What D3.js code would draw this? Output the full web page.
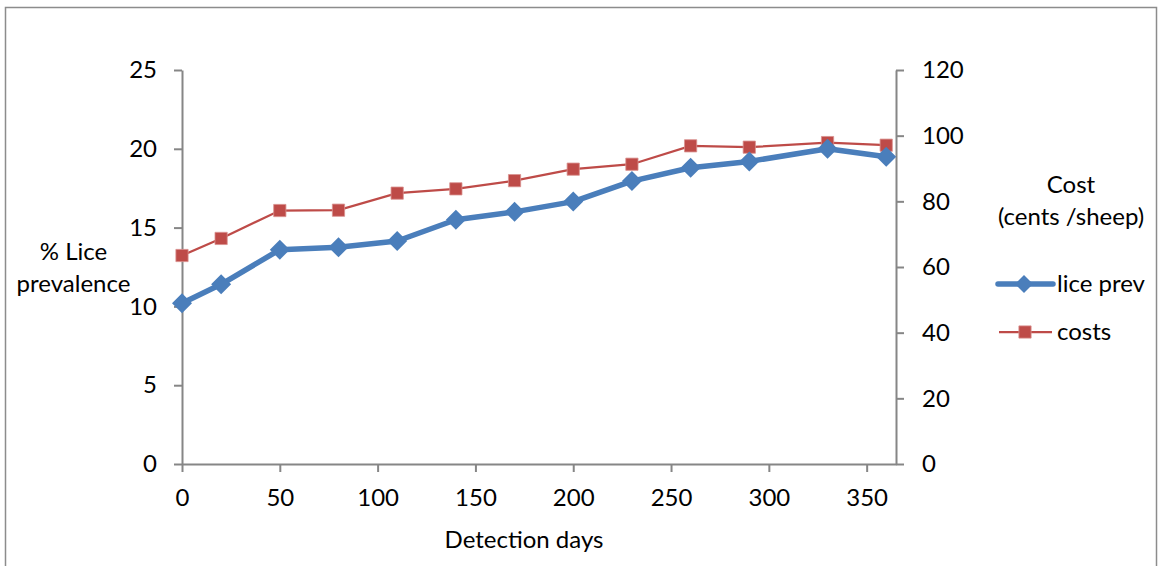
<!DOCTYPE html>
<html>
<head>
<meta charset="utf-8">
<script src="https://cdn.jsdelivr.net/npm/d3@7"></script>
<style>
  html, body { margin: 0; padding: 0; background: #fff; }
  svg { display: block; }
  text { font-family: Lato, "Open Sans", sans-serif; fill: #000; }
</style>
</head>
<body>
<svg id="chart" width="1159" height="566"></svg>
<script>
// Detection days (x), lice prevalence in % (left axis), cost in cents per sheep (right axis)
const days = [0, 20, 50, 80, 110, 140, 170, 200, 230, 260, 290, 330, 360];
const licePrev = [10.2, 11.4, 13.6, 13.75, 14.15, 15.5, 16.0, 16.65, 17.95, 18.8, 19.2, 20.0, 19.5];
const costs = [63.5, 68.7, 77.2, 77.3, 82.5, 83.8, 86.3, 89.8, 91.3, 96.9, 96.5, 97.9, 97.1];
const xTicks = [0, 50, 100, 150, 200, 250, 300, 350];
const leftTicks = [0, 5, 10, 15, 20, 25];
const rightTicks = [0, 20, 40, 60, 80, 100, 120];

const svg = d3.select("#chart");
const plot = { left: 182, right: 896, top: 70, bottom: 464 };
const axisColor = "#868686";
const blue = "#4A7EBB";
const red = "#BE4B48";
const fontSize = 24;

// outer frame
svg.append("rect")
  .attr("x", 5.5).attr("y", 7.5)
  .attr("width", 1151).attr("height", 600)
  .attr("fill", "none").attr("stroke", "#8c8c8c").attr("stroke-width", 1.5);

const x = d3.scaleLinear().domain([0, 365]).range([plot.left, plot.right]);
const yL = d3.scaleLinear().domain([0, 25]).range([plot.bottom, plot.top]);
const yR = d3.scaleLinear().domain([0, 120]).range([plot.bottom, plot.top]);

function styleAxis(g) {
  g.selectAll("path, line").attr("stroke", axisColor).attr("stroke-width", 2);
  g.selectAll("text").attr("font-size", fontSize).attr("font-family", "Lato, 'Open Sans', sans-serif").attr("fill", "#000");
}

// bottom axis
svg.append("g")
  .attr("transform", `translate(0,${plot.bottom})`)
  .call(d3.axisBottom(x).tickValues(xTicks).tickSizeInner(8).tickSizeOuter(0).tickPadding(17).tickFormat(d3.format("d")))
  .call(styleAxis);

// left axis
svg.append("g")
  .attr("transform", `translate(${plot.left},0)`)
  .call(d3.axisLeft(yL).tickValues(leftTicks).tickSizeInner(8).tickSizeOuter(0).tickPadding(17).tickFormat(d3.format("d")))
  .call(styleAxis);

// right axis
svg.append("g")
  .attr("transform", `translate(${plot.right},0)`)
  .call(d3.axisRight(yR).tickValues(rightTicks).tickSizeInner(8).tickSizeOuter(0).tickPadding(18).tickFormat(d3.format("d")))
  .call(styleAxis);

// axis titles
svg.append("text").attr("x", 524).attr("y", 548)
  .attr("text-anchor", "middle").attr("font-size", fontSize).text("Detection days");

svg.append("text").attr("x", 73.5).attr("y", 260)
  .attr("text-anchor", "middle").attr("font-size", fontSize).text("% Lice");
svg.append("text").attr("x", 73.5).attr("y", 292)
  .attr("text-anchor", "middle").attr("font-size", fontSize).text("prevalence");

svg.append("text").attr("x", 1071).attr("y", 193)
  .attr("text-anchor", "middle").attr("font-size", fontSize).text("Cost");
svg.append("text").attr("x", 1071).attr("y", 225)
  .attr("text-anchor", "middle").attr("font-size", fontSize).text("(cents /sheep)");

// series lines
const costLine = d3.line().x((d, i) => x(days[i])).y(d => yR(d));
const liceLine = d3.line().x((d, i) => x(days[i])).y(d => yL(d));

svg.append("path").datum(costs).attr("d", costLine)
  .attr("fill", "none").attr("stroke", red).attr("stroke-width", 2.25);

svg.append("path").datum(licePrev).attr("d", liceLine)
  .attr("fill", "none").attr("stroke", blue).attr("stroke-width", 5.5).attr("stroke-linejoin", "round");

const squareSym = d3.symbol().type(d3.symbolSquare).size(150);
const diamondPath = s => `M0,${-s}L${s},0L0,${s}L${-s},0Z`;

svg.append("g").selectAll("path").data(costs).join("path")
  .attr("d", squareSym)
  .attr("transform", (d, i) => `translate(${x(days[i])},${yR(d)})`)
  .attr("fill", red).attr("stroke", "#d9928f").attr("stroke-width", 0.8);

svg.append("g").selectAll("path").data(licePrev).join("path")
  .attr("d", diamondPath(10))
  .attr("transform", (d, i) => `translate(${x(days[i])},${yL(d)})`)
  .attr("fill", blue);

// legend
const legend = svg.append("g");
legend.append("line").attr("x1", 998).attr("x2", 1053).attr("y1", 284).attr("y2", 284)
  .attr("stroke", blue).attr("stroke-width", 5.5).attr("stroke-linecap", "round");
legend.append("path").attr("d", diamondPath(9)).attr("transform", "translate(1024,284)").attr("fill", blue);
legend.append("text").attr("x", 1057).attr("y", 284).attr("dy", "0.35em").attr("font-size", fontSize).text("lice prev");

legend.append("line").attr("x1", 999).attr("x2", 1052).attr("y1", 332).attr("y2", 332)
  .attr("stroke", red).attr("stroke-width", 2.25);
legend.append("path").attr("d", squareSym).attr("transform", "translate(1025,332)")
  .attr("fill", red).attr("stroke", "#d9928f").attr("stroke-width", 0.8);
legend.append("text").attr("x", 1057).attr("y", 332).attr("dy", "0.35em").attr("font-size", fontSize).text("costs");
</script>
</body>
</html>
